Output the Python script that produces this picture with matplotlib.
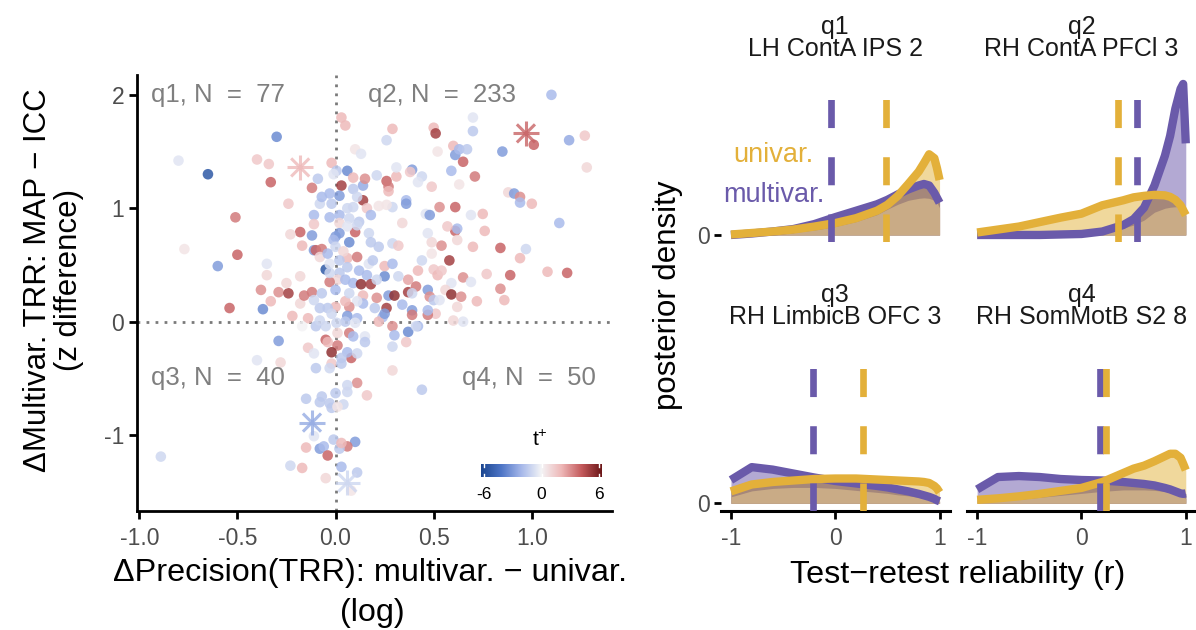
import numpy as np
import matplotlib
matplotlib.use('Agg')
import matplotlib.pyplot as plt
from matplotlib.colors import LinearSegmentedColormap, Normalize

plt.rcParams['font.family'] = ['Liberation Sans', 'DejaVu Sans']
plt.rcParams['axes.unicode_minus'] = False
plt.rcParams['lines.scale_dashes'] = False

# ---------------- scatter data (left panel) ----------------
delta_precision = [
    1.10, 0.03, 0.05, -0.30, 0.29, 0.26, 0.50, 0.51, 0.70, 0.70, 1.01, 1.19, 1.27, 1.28, 0.85, 0.60, 0.61, 0.63, 0.67, 0.65,
    0.52, 0.10, 0.13, -0.80, -0.65, -0.40, -0.34, -0.33, -0.02, 0.005, 0.06, -0.09, -0.12, 0.03, 0.09, 0.14, 0.15, 0.09, 0.21, 0.26,
    0.27, 0.31, 0.27, 0.31, 0.39, 0.38, 0.44, 0.42, 0.49, 0.59, 0.63, 0.71, 0.88, 0.91, 0.94, 0.94, 1.00, 1.14, 0.69, 0.75,
    0.61, 0.53, 0.46, 0.48, 0.36, 0.36, 0.34, 0.29, 0.26, 0.22, 0.14, 0.16, 0.18, 0.11, 0.06, 0.02, -0.03, -0.08, -0.11, -0.03,
    0.02, 0.07, 0.02, 0.12, -0.11, -0.12, -0.18, -0.23, -0.24, -0.51, -0.77, -0.50, -0.60, -0.35, -0.35, -0.38, -0.33, -0.54, -0.37, -0.29,
    -0.24, -0.25, -0.18, -0.22, -0.16, -0.12, -0.14, -0.17, -0.11, -0.10, -0.07, -0.08, -0.05, -0.03, 0.00, 0.02, -0.01, 0.07, 0.10, 0.11,
    0.17, 0.18, 0.22, 0.29, 0.32, 0.06, 0.11, 0.17, 0.12, 0.16, 0.02, 0.01, 0.05, -0.03, -0.07, 0.00, 0.09, 0.13, 0.18, 0.14,
    0.21, 0.25, 0.25, 0.29, 0.27, 0.30, 0.37, 0.37, 0.41, 0.44, 0.42, 0.47, 0.48, 0.50, 0.50, 0.52, 0.54, 0.58, 0.59, 0.56,
    0.59, 0.64, 0.65, 0.62, 0.69, 0.72, 0.77, 0.70, 0.84, 0.76, 0.61, 0.62, 0.57, 0.62, 0.49, 0.54, 0.49, 0.47, 0.97, 0.94,
    0.89, 1.08, 1.18, 0.84, 0.86, 0.65, 0.60, 0.51, 0.47, 0.47, 0.39, 0.39, 0.34, 0.42, 0.37, 0.36, 0.29, 0.30, 0.29, 0.29,
    0.44, 0.26, 0.24, 0.22, 0.25, 0.20, 0.14, 0.11, 0.07, 0.05, 0.00, -0.04, -0.08, 0.06, 0.11, 0.05, 0.005, -0.05, -0.10, 0.10,
    -0.17, 0.07, 0.09, 0.15, 0.15, 0.01, -0.05, -0.04, 0.01, -0.02, 0.08, 0.06, 0.03, -0.14, -0.11, -0.02, -0.03, -0.10, 0.03, -0.28,
    -0.40, -0.29, 0.11, 0.16, 0.06, 0.06, 0.00, -0.07, -0.15, -0.08, -0.03, -0.02, 0.04, 0.01, -0.11, -0.01, 0.10, 0.06, 0.02, 0.03,
    -0.08, -0.06, -0.15, -0.04, -0.89, -0.23, -0.17, 0.03, -0.05, 0.11, 0.08,
    -0.01, -0.07, -0.02, 0.09, 0.06, 0.00, -0.04, 0.04, 0.02, 0.06, -0.03, 0.07, -0.02, 0.19, 0.21, 0.32, 0.39, 0.53, 0.41, -0.08,
    -0.11, -0.18, 0.11,
]
delta_trr = [
    2.00, 1.80, 1.73, 1.63, 1.70, 1.60, 1.71, 1.66, 1.80, 1.68, 1.56, 1.60, 1.64, 1.36, 1.50, 1.55, 1.47, 1.52, 1.52, 1.41,
    1.50, 1.52, 1.48, 1.42, 1.30, 1.43, 1.39, 1.23, 1.40, 1.33, 1.33, 1.26, 1.18, 1.20, 1.27, 1.20, 1.26, 1.17, 1.29, 1.24,
    1.19, 1.28, 1.15, 1.36, 1.34, 1.32, 1.28, 1.23, 1.19, 1.33, 1.21, 1.28, 1.14, 1.13, 1.10, 1.05, 1.04, 0.87, 0.94, 0.95,
    1.01, 1.01, 0.95, 0.94, 1.07, 1.04, 0.87, 1.01, 1.03, 1.02, 1.07, 1.00, 0.94, 1.10, 1.00, 1.11, 1.13, 1.04, 0.94, 0.92,
    0.94, 0.91, 0.87, 0.88, 0.86, 0.76, 0.79, 0.77, 1.04, 0.92, 0.64, 0.59, 0.49, 0.51, 0.41, 0.28, 0.18, 0.12, 0.11, 0.26,
    0.25, 0.34, 0.16, 0.05, 0.23, 0.26, 0.03, 0.67, 0.63, 0.63, 0.64, 0.57, 0.46, 0.51, 0.75, 0.78, 0.72, 0.70, 0.79, 0.85,
    0.78, 0.70, 0.66, 0.69, 0.67, 0.56, 0.57, 0.51, 0.45, 0.41, 0.43, 0.37, 0.37, 0.35, 0.25, 0.28, 0.34, 0.33, 0.33, 0.23,
    0.21, 0.40, 0.49, 0.51, 0.23, 0.23, 0.26, 0.37, 0.31, 0.54, 0.45, 0.28, 0.22, 0.19, 0.46, 0.41, 0.45, 0.54, 0.34, 0.28,
    0.24, 0.22, 0.39, 0.13, 0.35, 0.18, 0.42, 0.66, 0.65, 0.80, 0.80, 0.82, 0.84, 0.72, 0.70, 0.67, 0.60, 0.78, 0.64, 0.56,
    0.41, 0.44, 0.43, 0.29, 0.19, 0.00, 0.01, 0.07, 0.06, 0.10, 0.10, 0.06, 0.15, -0.04, -0.09, -0.18, -0.04, -0.12, -0.22, -0.43,
    -0.60, 0.12, 0.04, 0.00, 0.07, 0.12, 0.16, 0.18, 0.13, 0.18, 0.13, 0.12, 0.12, 0.05, 0.03, 0.00, -0.01, -0.04, -0.04, -0.01,
    -0.04, -0.10, -0.13, -0.13, -0.18, -0.10, -0.16, -0.18, -0.21, -0.27, -0.32, -0.27, -0.32, -0.23, -0.28, -0.37, -0.41, -0.41, -0.37, -0.36,
    -0.34, -0.17, -0.54, -0.65, -0.56, -0.62, -0.63, -0.66, -0.68, -0.71, -0.72, -0.76, -0.73, -0.75, -1.01, -1.04, -1.06, -1.10, -1.12, -1.07,
    -1.12, -1.10, -1.11, -1.18, -1.19, -1.27, -1.29, -1.28, -1.38, -1.33, -1.49,
    1.30, 1.10, 1.04, 1.01, 0.84, 0.66, 0.60, 0.62, 0.54, 0.48, 0.43, 0.25, 0.07, 0.54, 0.37, 0.40, 0.25, 0.19, -0.04, 0.01,
    0.19, 0.40, -0.28,
]
t_stat = [
    -2, 2, 2, -3.5, 2, -1, 2, 5, -0.5, -1.5, 4, -2.5, 1.5, 1, -3, 2, -3, -2, -1.5, 4,
    0.5, 0.5, -0.5, -0.5, -5.5, 1.5, 1.5, 4, 2, -1.5, -3.5, -1.5, 3.5, 5, 2, -2.5, 3, -1.5, -1, 4,
    3.5, 2, 2, -0.5, -3, 1.5, -1, -0.5, 1.5, -2, 0.5, 3.5, 1, -3, 3, -2, 2, -2, -0.5, 2,
    4, 3, -0.5, -3, -2, -3, 1, -1, 0.5, 0.5, 5, 1.5, -2, -1, -1, -3, -2, -1, -2, -2,
    -2, -1, 1, -1.5, 1.5, -3, 4, 1, 1.5, 3.5, 0.5, 4, -3, -0.5, 1, 3, 2, 4, -3.5, 3,
    5, 1, 1, 2, 3.5, 3.5, 2, 2, -3, 4, 3.5, 1, -5.5, -0.5, -3, -3, -2, -3.5, 4, -1,
    -1, -1.5, -1.5, -1, 1.5, 2, 3.5, -0.5, -2, -2, -1.5, 1, -2, 3.5, -1.5, -2, -2, 5.5, 5, 2,
    3, -3.5, 2, -2, -3, 5.5, 5, 2.5, 3.5, -1, 2, -3, 3, -1.5, 1.5, 2, 1.5, 5, -0.5, 1,
    5.5, 3, 3, 1, -0.5, 2, 1.5, 2, 4, 2, 4, -2, 1.5, 1, 1, 3, 0.5, -0.5, -1, 2,
    4, 2, 4, 3, 2, -0.5, 1, 1.5, 3.5, -2, -3, 3.5, -2, -2, -3.5, 1.5, 3, -2, -1, 1,
    -1.5, 5, -2, 2, -3, -1.5, -2, -0.5, 3, 2, 2, -1.5, -1.5, -3, -2, -1.5, -1, -1, -1.5, -0.5,
    0, 3.5, -2, -0.5, -1.5, 1, 4, 2, 3.5, 5.5, 4, -2, -1.5, 1.5, -0.5, 1.5, -1, -1.5, -1.5, 1,
    -0.5, -3, 3, 1.5, -1, -1, -1.5, -1.5, -1.5, -1.5, -1.5, -1.5, -1, 0.5, -0.5, -1.5, -3, 3.5, -1.5, 2,
    -3, -2, 2, 4, -1, -1, 2, -2, 1, -1.5, 0.5,
    -0.5, -2, -1.5, -1, -0.5, -1, -2, 1, -1.5, -1.5, -1, -1, -1, -1.5, -1, -1, -1, -0.5, -1, -1,
    -1, 1, -1,
]
# highlighted regions (asterisks), one per quadrant
star_precision = [-0.18, 0.97, -0.12, 0.06]
star_trr = [1.36, 1.66, -0.89, -1.42]
star_t = [2, 4, -2.5, -1]

quad_labels = ['q1, N  =  77', 'q2, N  =  233', 'q3, N  =  40', 'q4, N  =  50']

# ---------------- posterior densities (right panels) ----------------
r_grid = [-1, -0.8, -0.6, -0.4, -0.2, 0, 0.2, 0.4, 0.5, 0.6, 0.7, 0.8, 0.85, 0.9, 0.95, 0.975, 1.0]

q1_multi = [0.0, 0.03, 0.07, 0.12, 0.22, 0.36, 0.49, 0.62, 0.71, 0.82, 0.92, 1.0, 1.03, 1.0, 0.85, 0.75, 0.65]
q1_univ = [0.01, 0.04, 0.07, 0.11, 0.17, 0.24, 0.34, 0.49, 0.61, 0.79, 1.03, 1.28, 1.45, 1.63, 1.55, 1.35, 1.11]
q1_overlap = [0.0, 0.0, 0.02, 0.05, 0.10, 0.17, 0.27, 0.41, 0.52, 0.62, 0.70, 0.74, 0.75, 0.74, 0.70, 0.65, 0.55]

q2_multi = [0.0, 0.0, 0.0, 0.0, 0.01, 0.02, 0.07, 0.2, 0.32, 0.55, 1.0, 1.6, 2.0, 2.55, 2.95, 3.05, 1.85]
q2_univ = [0.05, 0.11, 0.17, 0.26, 0.35, 0.43, 0.6, 0.7, 0.76, 0.79, 0.81, 0.8, 0.77, 0.71, 0.6, 0.5, 0.4]
q2_overlap = [0.0, 0.01, 0.02, 0.03, 0.04, 0.05, 0.07, 0.14, 0.2, 0.3, 0.46, 0.54, 0.56, 0.57, 0.57, 0.56, 0.55]

q3_multi = [0.47, 0.73, 0.68, 0.6, 0.52, 0.45, 0.4, 0.35, 0.32, 0.28, 0.24, 0.19, 0.16, 0.13, 0.09, 0.06, 0.04]
q3_univ = [0.24, 0.38, 0.43, 0.46, 0.49, 0.5, 0.5, 0.48, 0.47, 0.46, 0.45, 0.44, 0.43, 0.41, 0.35, 0.3, 0.22]
q3_overlap = [0.13, 0.25, 0.3, 0.32, 0.32, 0.3, 0.26, 0.22, 0.2, 0.17, 0.15, 0.12, 0.1, 0.08, 0.06, 0.05, 0.03]

q4_multi = [0.28, 0.53, 0.55, 0.53, 0.49, 0.47, 0.46, 0.43, 0.41, 0.39, 0.36, 0.31, 0.28, 0.24, 0.2, 0.19, 0.2]
q4_univ = [0.07, 0.1, 0.14, 0.19, 0.25, 0.31, 0.43, 0.61, 0.7, 0.76, 0.85, 0.95, 1.0, 1.0, 0.92, 0.8, 0.67]
q4_overlap = [0.03, 0.05, 0.08, 0.12, 0.16, 0.2, 0.24, 0.27, 0.27, 0.27, 0.26, 0.24, 0.22, 0.2, 0.15, 0.12, 0.1]

multi_means = [-0.04, 0.53, -0.21, 0.175]
univ_means = [0.49, 0.35, 0.27, 0.24]

panel_ids = ['q1', 'q2', 'q3', 'q4']
panel_regions = ['LH ContA IPS 2', 'RH ContA PFCl 3', 'RH LimbicB OFC 3', 'RH SomMotB S2 8']

# ---------------- styling ----------------
PURPLE = '#6a5aaa'
GOLD = '#e3b03a'
LIGHT_PURPLE = '#b3a9d3'
LIGHT_GOLD = '#f0d89c'
BROWN = '#a5877a'
TAN = '#c9ab86'
TICK_GRAY = '#4d4d4d'
W, H = 1196, 630

cmap = LinearSegmentedColormap.from_list(
    'tplus', ['#1b4690', '#4e75c6', '#a6b8ea', '#f4f4f6', '#eeb7b7', '#c45a5c', '#6b1617'])
norm = Normalize(-6.35, 6.35)


def fx(px):
    return px / W


def fy(py):
    return 1 - py / H


fig = plt.figure(figsize=(W / 100, H / 100), dpi=100)
fig.patch.set_facecolor('white')

# ---------------- left scatter ----------------
ax = fig.add_axes([fx(136.7), fy(510.7), (611.7 - 136.7) / W, (510.7 - 75) / H])
ax.set_xlim(-1.013, 1.407)
ax.set_ylim(-1.667, 2.175)
ax.axvline(0, color='#7a7a7a', lw=2, ls=(0, (2, 4.5)), zorder=1)
ax.axhline(0, color='#7a7a7a', lw=2, ls=(0, (2, 4.5)), zorder=1)
ax.scatter(delta_precision, delta_trr, c=t_stat, cmap=cmap, norm=norm, s=58,
           alpha=0.85, linewidths=0, zorder=2)
for mk, s in (('+', 340), ('x', 170)):
    ax.scatter(star_precision, star_trr, c=star_t, cmap=cmap, norm=norm, marker=mk,
               s=s, linewidths=2.2, alpha=0.8, zorder=3)
lab_kw = dict(color='#7f7f7f', fontsize=18.5, va='center', zorder=4)
ax.text(-0.94, 2.0, quad_labels[0], ha='left', **lab_kw)
ax.text(0.165, 2.0, quad_labels[1], ha='left', **lab_kw)
ax.text(-0.94, -0.5, quad_labels[2], ha='left', **lab_kw)
ax.text(1.327, -0.5, quad_labels[3], ha='right', **lab_kw)

for sp in ('top', 'right'):
    ax.spines[sp].set_visible(False)
for sp in ('left', 'bottom'):
    ax.spines[sp].set_linewidth(2)
    ax.spines[sp].set_color('black')
ax.set_xticks([-1.0, -0.5, 0.0, 0.5, 1.0])
ax.set_xticklabels(['-1.0', '-0.5', '0.0', '0.5', '1.0'])
ax.set_yticks([-1, 0, 1, 2])
ax.set_yticklabels(['-1', '0', '1', '2'])
ax.tick_params(axis='both', length=5.5, width=2, color='black', labelcolor=TICK_GRAY,
               labelsize=16.5)
ax.tick_params(axis='x', pad=6)
ax.tick_params(axis='y', pad=3.5)

fig.text(fx(370), fy(573), 'ΔPrecision(TRR): multivar. − univar.', ha='center', va='center',
         fontsize=23.3)
fig.text(fx(372), fy(613), '(log)', ha='center', va='center', fontsize=23.3)
fig.text(fx(38), fy(280), 'ΔMultivar. TRR: MAP − ICC', rotation=90, ha='center',
         va='center', fontsize=22.5)
fig.text(fx(69), fy(280), '(z difference)', rotation=90, ha='center', va='center',
         fontsize=22.5)

# colorbar
cax = fig.add_axes([fx(481), fy(477), 121 / W, 13 / H])
grad = np.linspace(-6.35, 6.35, 256).reshape(1, -1)
cax.imshow(grad, cmap=cmap, norm=norm, aspect='auto', extent=[-6.35, 6.35, 0, 1])
cax.set_xlim(-6.35, 6.35)
cax.set_ylim(0, 1)
cax.axis('off')
for tv in (-6, 0, 6):
    cax.plot([tv, tv], [0, 0.2], color='white', lw=1)
    cax.plot([tv, tv], [0.8, 1], color='white', lw=1)
    cax.text(tv, -0.75, str(tv), ha='center', va='top', fontsize=12.5, color='black')
fig.text(fx(540), fy(440), r'$\mathregular{t^{+}}$', ha='center', va='center', fontsize=15)

# ---------------- right density panels ----------------
multis = [q1_multi, q2_multi, q3_multi, q4_multi]
univs = [q1_univ, q2_univ, q3_univ, q4_univ]
overlaps = [q1_overlap, q2_overlap, q3_overlap, q4_overlap]
lefts = [720.5, 966.7, 720.5, 966.7]
bottoms = [242.4, 242.4, 510.7, 510.7]
r = np.array(r_grid)
YLO, YHI = -0.15, 3.15

for i in range(4):
    a = fig.add_axes([fx(lefts[i]), fy(bottoms[i]), 229.5 / W, 163.4 / H])
    a.set_xlim(-1.1, 1.1)
    a.set_ylim(YLO, YHI)
    m = np.array(multis[i])
    u = np.array(univs[i])
    o = np.minimum(np.array(overlaps[i]), np.minimum(m, u))
    a.fill_between(r, 0, u, color=LIGHT_GOLD, lw=0, zorder=1)
    a.fill_between(r, 0, m, color=LIGHT_PURPLE, lw=0, zorder=2)
    a.fill_between(r, 0, np.minimum(m, u), color=BROWN, lw=0, zorder=3)
    a.fill_between(r, 0, o, color=TAN, lw=0, zorder=4)
    a.plot(r, m, color=PURPLE, lw=6, solid_capstyle='butt', solid_joinstyle='round', zorder=5)
    a.plot(r, u, color=GOLD, lw=6, solid_capstyle='butt', solid_joinstyle='round', zorder=6)
    a.plot([multi_means[i]] * 2, [YLO, YHI], color=PURPLE, lw=4.8, ls=(0, (20.2, 21)),
           dash_capstyle='butt', zorder=7)
    a.plot([univ_means[i]] * 2, [YLO, YHI], color=GOLD, lw=4.8, ls=(0, (20.2, 21)),
           dash_capstyle='butt', zorder=7)
    for sp in ('top', 'right', 'left'):
        a.spines[sp].set_visible(False)
    if i < 2:
        a.spines['bottom'].set_visible(False)
        a.set_xticks([])
    else:
        a.spines['bottom'].set_linewidth(2.2)
        a.spines['bottom'].set_color('black')
        a.set_xticks([-1, 0, 1])
        a.set_xticklabels(['-1', '0', '1'])
        a.tick_params(axis='x', length=5.5, width=2, color='black', labelcolor=TICK_GRAY,
                      labelsize=16.5, pad=6)
    if i % 2 == 0:
        a.set_yticks([0])
        a.set_yticklabels(['0'])
        a.tick_params(axis='y', length=5, width=2, color='black', labelcolor=TICK_GRAY,
                      labelsize=16.5, pad=3)
    else:
        a.set_yticks([])
    a.set_facecolor('none')
    top_px = bottoms[i] - 163.4
    cx = lefts[i] + 229.5 / 2
    fig.text(fx(cx), fy(top_px - 52), panel_ids[i], ha='center', va='center', fontsize=18,
             color='#1a1a1a')
    fig.text(fx(cx), fy(top_px - 30), panel_regions[i], ha='center', va='center',
             fontsize=18, color='#1a1a1a')
    if i == 0:
        a.text(-0.59, 1.62, 'univar.', color=GOLD, fontsize=19.5, ha='center', va='center',
               zorder=8)
        a.text(-0.59, 0.81, 'multivar.', color=PURPLE, fontsize=19.5, ha='center',
               va='center', zorder=8)

fig.text(fx(668), fy(295), 'posterior density', rotation=90, ha='center', va='center',
         fontsize=22.5)
fig.text(fx(958), fy(575), 'Test−retest reliability (r)', ha='center', va='center',
         fontsize=23.3)

fig.savefig('out.png', dpi=100, facecolor='white')
